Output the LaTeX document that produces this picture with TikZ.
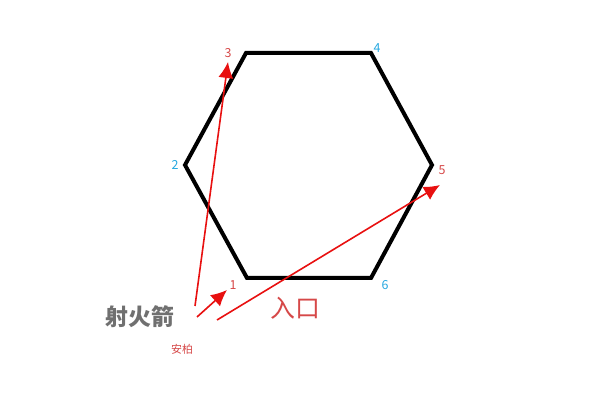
\documentclass[tikz,border=0pt]{standalone}
\usepackage{fontspec}
\newfontfamily\cjk{Noto Sans CJK SC}
\usepackage{tikz}
\usetikzlibrary{arrows.meta}
\definecolor{arrowred}{RGB}{232,16,16}
\definecolor{labelred}{RGB}{214,72,72}
\definecolor{labelblue}{RGB}{38,168,224}
\definecolor{textgray}{RGB}{112,112,112}
\tikzset{
  num/.style={font=\cjk\fontsize{12.5}{14}\selectfont,inner sep=0pt},
  shot/.style={->,draw=arrowred,fill=arrowred,line width=1.6bp},
}

\begin{document}
\begin{tikzpicture}[>={Latex[length=16bp,width=15bp]},line join=bevel,]
\useasboundingbox (0bp,0bp) rectangle (597bp,405bp);
%%
\coordinate (v1) at (247bp,127bp);
  \coordinate (v2) at (185bp,240bp);
  \coordinate (v3) at (246bp,352bp);
  \coordinate (v4) at (371bp,352bp);
  \coordinate (v5) at (432bp,240bp);
  \coordinate (v6) at (371bp,127bp);
  \draw [line width=4bp,line join=miter] (v1) -- (v2) -- (v3) -- (v4) -- (v5) -- (v6) -- cycle;
  \node (n1) at (233bp,120bp) [num,text=labelred] {1};
  \node (n2) at (175bp,240bp) [num,text=labelblue] {2};
  \node (n3) at (228bp,352bp) [num,text=labelred] {3};
  \node (n4) at (377bp,357bp) [num,text=labelblue] {4};
  \node (n5) at (442bp,235bp) [num,text=labelred] {5};
  \node (n6) at (385bp,120bp) [num,text=labelblue] {6};
%
  \coordinate (s1) at (197bp,88bp);
  \coordinate (t1) at (227bp,115bp);
  \coordinate (s3) at (195bp,99bp);
  \coordinate (t3) at (228bp,343bp);
  \coordinate (s5) at (217bp,85bp);
  \coordinate (t5) at (440bp,220bp);
  \draw [shot] (s1) -- (t1);
  \draw [shot] (s3) -- (t3);
  \draw [shot] (s5) -- (t5);
%
  \node (fire) at (140bp,88bp) [text=textgray,font=\cjk\bfseries\fontsize{23}{26}\selectfont] {射火箭};
  \node (entry) at (295bp,97bp) [text=labelred,font=\cjk\fontsize{25}{28}\selectfont] {入口};
  \node (amber) at (182bp,56bp) [text=labelred,font=\cjk\fontsize{11}{13}\selectfont] {安柏};
%
\end{tikzpicture}
\end{document}
